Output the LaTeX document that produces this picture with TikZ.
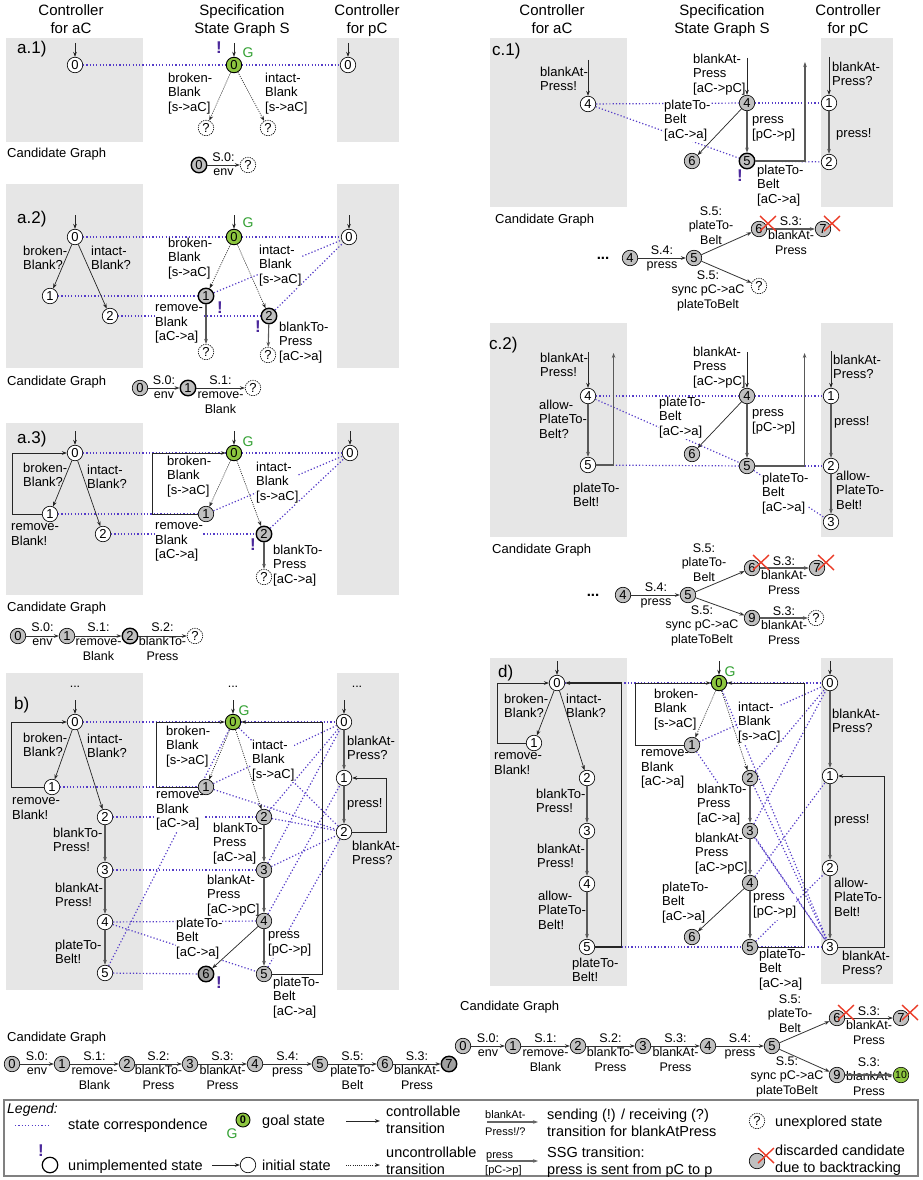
\documentclass[tikz,border=0pt]{standalone}
\usepackage{fontspec}
\setmainfont{Liberation Sans}
\usetikzlibrary{arrows.meta}
\pgfdeclarelayer{bg}\pgfdeclarelayer{corrl}\pgfsetlayers{bg,corrl,main}
\definecolor{boxg}{RGB}{230,230,230}
\definecolor{pcol}{RGB}{85,60,200}
\definecolor{excl}{RGB}{75,40,155}
\definecolor{ngreen}{RGB}{141,198,63}
\definecolor{gtext}{RGB}{50,160,50}
\definecolor{ngray}{RGB}{192,192,192}
\definecolor{ndark}{RGB}{160,160,160}
\definecolor{xred}{RGB}{235,60,40}
\newcommand\fntL{\fontsize{13}{14.5}\selectfont}
\newcommand\fntC{\fontsize{12.5}{14.5}\selectfont}
\newcommand\fntH{\fontsize{15}{18}\selectfont}
\newcommand\fntP{\fontsize{17}{20}\selectfont}
\newcommand\fntG{\fontsize{14.5}{17}\selectfont}
\newcommand\fntS{\fontsize{11}{12.5}\selectfont}
\newcounter{lbc}
\newcommand\lab[3][]{\stepcounter{lbc}\node[lbl,#1] (lab\arabic{lbc}) at (#2) {#3};}
\newcommand\clab[3][]{\stepcounter{lbc}\node[clbl,#1] (lab\arabic{lbc}) at (#2) {#3};}
\newcommand\initarr[2][22]{\draw[ctl] ([yshift=#1pt]#2.center) -- (#2);}
\newcommand\redx[1]{\draw[xred,line width=1.4pt] ([shift={(1,-13)}]#1.center) -- ([shift={(17,2)}]#1.center) ([shift={(1,2)}]#1.center) -- ([shift={(17,-13)}]#1.center);}
\tikzset{
 stn/.style={circle,draw,minimum size=15.5pt,inner sep=0pt,font=\fontsize{13}{13}\selectfont,line width=0.65pt,fill=white},
 stg/.style={stn,fill=ngray},
 stgoal/.style={stn,fill=ngreen,line width=0.9pt},
 unimp/.style={line width=1.4pt},
 stq/.style={stn,dash pattern=on 1.3pt off 1pt},
 corr/.style={draw=pcol,line width=1.2pt,dash pattern=on 1.2pt off 2.1pt},
 ctl/.style={draw=black!85,line width=0.7pt,-{Stealth[length=5pt,width=3.6pt]}},
 ctlg/.style={ctl,draw=black!65,line width=1.1pt},
 unc/.style={ctl,dash pattern=on 1pt off 1.2pt},
 cand/.style={draw=black!80,line width=0.8pt,-{Stealth[length=5pt,width=3.6pt]}},
 txtbase/.style={inner sep=0pt,execute at begin node=\strut},
 lbl/.style={txtbase,anchor=north west,align=left,font=\fntL,yshift=5.5pt},
 lblw/.style={fill=white},
 clbl/.style={txtbase,anchor=north,align=center,font=\fntC,yshift=5.6pt},
 hd/.style={txtbase,anchor=north,align=center,font=\fntH,yshift=7.2pt},
 pn/.style={txtbase,anchor=north west,font=\fntP,yshift=7.9pt},
 lg/.style={txtbase,anchor=north west,align=left,font=\fntG,yshift=6.7pt},
 lgs/.style={txtbase,anchor=north west,align=left,font=\fntS,yshift=4.8pt},
 gl/.style={text=gtext,font=\fontsize{14}{14}\selectfont,inner sep=0pt},
 ex/.style={text=excl,font=\fontsize{17}{17}\selectfont\bfseries,inner sep=0pt},
 dots/.style={inner sep=0pt,font=\fntC},
}
\begin{document}
\begin{tikzpicture}[x=1pt,y=-1pt]
\useasboundingbox (0,0) rectangle (923,1180);
\begin{pgfonlayer}{bg}
\fill[white] (0,0) rectangle (923,1180);
\foreach \t/\b in {38/142,184/368,423/595,673/990}{\fill[boxg] (6,\t) rectangle (143,\b); \fill[boxg] (337,\t) rectangle (399,\b);}
\fill[boxg] (490,38) rectangle (627,207); \fill[boxg] (821,38) rectangle (893,207);
\fill[boxg] (490,323) rectangle (627,537); \fill[boxg] (821,323) rectangle (893,537);
\fill[boxg] (490,658) rectangle (627,986); \fill[boxg] (821,658) rectangle (893,984);
\end{pgfonlayer}
% headings
\node[hd] (h1) at (71,12) {Controller\\for aC};
\node[hd] (h2) at (242,12) {Specification\\State Graph S};
\node[hd] (h3) at (367,12) {Controller\\for pC};
\node[hd] (h4) at (552,12) {Controller\\for aC};
\node[hd] (h5) at (722,12) {Specification\\State Graph S};
\node[hd] (h6) at (848,12) {Controller\\for pC};
\node[pn] (pa1) at (17,47) {a.1)};
\node[pn] (pa2) at (17,217) {a.2)};
\node[pn] (pa3) at (17,437) {a.3)};
\node[pn] (pb) at (14,703) {b)};
\node[pn] (pc1) at (492,49) {c.1)};
\node[pn] (pc2) at (489,343) {c.2)};
\node[pn] (pd) at (498,671) {d)};
% ================= labels a.1
\lab[lblw]{168,78}{broken-\\Blank\\{}[s->aC]}
\lab[lblw]{265,78}{intact-\\Blank\\{}[s->aC]}
\lab{7,153}{Candidate Graph}
\clab{223.5,158}{S.0:\\env}
% a.2
\lab{23,251}{broken-\\Blank?}
\lab{91,251}{intact-\\Blank?}
\lab[lblw]{168,243}{broken-\\Blank\\{}[s->aC]}
\lab[lblw]{259,250}{intact-\\Blank\\{}[s->aC]}
\lab[lblw]{155,310}{remove-\\Blank\\{}[aC->a]}
\lab[lblw]{279,327}{blankTo-\\Press\\{}[aC->a]}
\lab{7,381}{Candidate Graph}
\clab{164,381}{S.0:\\env}
\clab{220.5,381}{S.1:\\remove-\\Blank}
% a.3
\lab{23,468}{broken-\\Blank?}
\lab{87,470}{intact-\\Blank?}
\lab{11,529}{remove-\\Blank!}
\lab[lblw]{167,461}{broken-\\Blank\\{}[s->aC]}
\lab[lblw]{256,467}{intact-\\Blank\\{}[s->aC]}
\lab[lblw]{155,528}{remove-\\Blank\\{}[aC->a]}
\lab[lblw]{273,550}{blankTo-\\Press\\{}[aC->a]}
\lab{7,607}{Candidate Graph}
\clab{42.5,628}{S.0:\\env}
\clab{98.5,628}{S.1:\\remove-\\Blank}
\clab{162.5,628}{S.2:\\blankTo-\\Press}
% b
\node[dots] (bd1) at (75,687) {...};
\node[dots] (bd2) at (233,687) {...};
\node[dots] (bd3) at (357,687) {...};
\lab{23,738}{broken-\\Blank?}
\lab{87,739}{intact-\\Blank?}
\lab{12,803}{remove-\\Blank!}
\lab{53,833}{blankTo-\\Press!}
\lab{55,888}{blankAt-\\Press!}
\lab{55,945}{plateTo-\\Belt!}
\lab[lblw]{166,731}{broken-\\Blank\\{}[s->aC]}
\lab[lblw]{252,745}{intact-\\Blank\\{}[s->aC]}
\lab[lblw]{156,797}{remove-\\Blank\\{}[aC->a]}
\lab[lblw]{213,828}{blankTo-\\Press\\{}[aC->a]}
\lab[lblw]{207,880}{blankAt-\\Press\\{}[aC->pC]}
\lab[lblw]{176,923}{plateTo-\\Belt\\{}[aC->a]}
\lab[lblw]{268,937}{press\\{}[pC->p]}
\lab[lblw]{273,982}{plateTo-\\Belt\\{}[aC->a]}
\lab{347,741}{blankAt-\\Press?}
\lab{347,803}{press!}
\lab{352,846}{blankAt-\\Press?}
\lab{7,1037}{Candidate Graph}
\clab{37,1057}{S.0:\\env}
\clab{94.5,1057}{S.1:\\remove-\\Blank}
\clab{158.5,1057}{S.2:\\blankTo-\\Press}
\clab{222.5,1057}{S.3:\\blankAt-\\Press}
\clab{287.5,1057}{S.4:\\press}
\clab{352.5,1057}{S.5:\\plateTo-\\Belt}
\clab{417,1057}{S.3:\\blankAt-\\Press}
% c.1
\lab{540,72}{blankAt-\\Press!}
\lab[lblw]{693,59}{blankAt-\\Press\\{}[aC->pC]}
\lab[lblw]{664,105}{plateTo-\\Belt\\{}[aC->a]}
\lab[lblw]{752,122}{press\\{}[pC->p]}
\lab[lblw]{757,170}{plateTo-\\Belt\\{}[aC->a]}
\lab{832,67}{blankAt-\\Press?}
\lab{836,133}{press!}
\lab{495,219}{Candidate Graph}
\clab{662,251}{S.4:\\press}
\clab{711,212}{S.5:\\plateTo-\\Belt}
\clab{791,222}{S.3:\\blankAt-\\Press}
\clab{708,276}{S.5:\\sync pC->aC\\plateToBelt}
\node[dots,font=\fontsize{15}{15}\selectfont\bfseries] (cad) at (603,258) {...};
% c.2
\lab{540,358}{blankAt-\\Press!}
\lab{539,405}{allow-\\PlateTo-\\Belt?}
\lab{573,488}{plateTo-\\Belt!}
\lab[lblw]{693,352}{blankAt-\\Press\\{}[aC->pC]}
\lab[lblw]{659,402}{plateTo-\\Belt\\{}[aC->a]}
\lab[lblw]{752,415}{press\\{}[pC->p]}
\lab[lblw]{762,478}{plateTo-\\Belt\\{}[aC->a]}
\lab{833,360}{blankAt-\\Press?}
\lab{834,421}{press!}
\lab{836,476}{allow-\\PlateTo-\\Belt!}
\lab{492,549}{Candidate Graph}
\clab{656,588}{S.4:\\press}
\clab{704,549}{S.5:\\plateTo-\\Belt}
\clab{784,562}{S.3:\\blankAt-\\Press}
\clab{702,611}{S.5:\\sync pC->aC\\plateToBelt}
\clab{784,612}{S.3:\\blankAt-\\Press}
\node[dots,font=\fontsize{15}{15}\selectfont\bfseries] (cbd) at (593,595) {...};
% d
\lab{504,699}{broken-\\Blank?}
\lab{566,699}{intact-\\Blank?}
\lab{494,758}{remove-\\Blank!}
\lab{536,794}{blankTo-\\Press!}
\lab{537,849}{blankAt-\\Press!}
\lab{538,896}{allow-\\PlateTo-\\Belt!}
\lab{572,963}{plateTo-\\Belt!}
\lab[lblw]{654,694}{broken-\\Blank\\{}[s->aC]}
\lab[lblw]{738,707}{intact-\\Blank\\{}[s->aC]}
\lab[lblw]{641,755}{remove-\\Blank\\{}[aC->a]}
\lab[lblw]{697,789}{blankTo-\\Press\\{}[aC->a]}
\lab[lblw]{695,838}{blankAt-\\Press\\{}[aC->pC]}
\lab[lblw]{662,887}{plateTo-\\Belt\\{}[aC->a]}
\lab[lblw]{753,899}{press\\{}[pC->p]}
\lab[lblw]{759,954}{plateTo-\\Belt\\{}[aC->a]}
\lab{832,714}{blankAt-\\Press?}
\lab{834,819}{press!}
\lab{834,883}{allow-\\PlateTo-\\Belt!}
\lab{842,956}{blankAt-\\Press?}
\lab{460,1006}{Candidate Graph}
\clab{488,1039}{S.0:\\env}
\clab{545.5,1039}{S.1:\\remove-\\Blank}
\clab{610.5,1039}{S.2:\\blankTo-\\Press}
\clab{675.5,1039}{S.3:\\blankAt-\\Press}
\clab{740,1039}{S.4:\\press}
\clab{790,1000}{S.5:\\plateTo-\\Belt}
\clab{869,1012}{S.3:\\blankAt-\\Press}
\clab{787,1062}{S.5:\\sync pC->aC\\plateToBelt}
\clab{869,1063}{S.3:\\blankAt-\\Press}
% ================= nodes a.1
\node[stn] (a1A0) at (75,65) {0};
\node[stgoal] (a1S0) at (234,65) {0};
\node[stq] (a1Q1) at (206,128) {?};
\node[stq] (a1Q2) at (268,128) {?};
\node[stn] (a1P0) at (348,65) {0};
\node[stg,unimp] (a1K0) at (199,165) {0};
\node[stq] (a1Kq) at (248,165) {?};
% a.2
\node[stn] (a2A0) at (75,237) {0};
\node[stn] (a2A1) at (50,296) {1};
\node[stn] (a2A2) at (110,316) {2};
\node[stgoal] (a2S0) at (234,237) {0};
\node[stg,unimp] (a2S1) at (206,296) {1};
\node[stg,unimp] (a2S2) at (269,316) {2};
\node[stq] (a2Q1) at (206,352) {?};
\node[stq] (a2Q2) at (268,355) {?};
\node[stn] (a2P0) at (349,237) {0};
\node[stg] (a2K0) at (140,388) {0};
\node[stg,unimp] (a2K1) at (188,388) {1};
\node[stq] (a2Kq) at (253,388) {?};
% a.3
\node[stn] (a3A0) at (75,453) {0};
\node[stn] (a3A1) at (50,514) {1};
\node[stn] (a3A2) at (103,534) {2};
\node[stgoal] (a3S0) at (234,453) {0};
\node[stg] (a3S1) at (206,514) {1};
\node[stg,unimp] (a3S2) at (264,534) {2};
\node[stq] (a3Q) at (264,577) {?};
\node[stn] (a3P0) at (350,453) {0};
\node[stg] (a3K0) at (18,636) {0};
\node[stg] (a3K1) at (67,636) {1};
\node[stg,unimp] (a3K2) at (130,636) {2};
\node[stq] (a3Kq) at (195,636) {?};
% b
\node[stn] (bA0) at (75,722) {0};
\node[stn] (bA1) at (52,787) {1};
\node[stn] (bA2) at (105,817) {2};
\node[stn] (bA3) at (105,870) {3};
\node[stn] (bA4) at (105,922) {4};
\node[stn] (bA5) at (105,973) {5};
\node[stgoal] (bS0) at (233,722) {0};
\node[stg] (bS1) at (206,787) {1};
\node[stg] (bS2) at (264,817) {2};
\node[stg] (bS3) at (264,870) {3};
\node[stg] (bS4) at (264,921) {4};
\node[stg] (bS5) at (264,974) {5};
\node[stg,unimp,fill=ndark] (bS6) at (206,974) {6};
\node[stn] (bP0) at (344,722) {0};
\node[stn] (bP1) at (344,778) {1};
\node[stn] (bP2) at (344,832) {2};
\foreach \i/\x in {0/12,1/62,2/127,3/190,4/255,5/320,6/385}{\node[stg] (bK\i) at (\x,1064) {\i};}
\node[stg,unimp,fill=ndark] (bK7) at (449,1064) {7};
% c.1
\node[stn] (caA4) at (588,104) {4};
\node[stg] (caS4) at (747,103) {4};
\node[stg,unimp] (caS5) at (747,161) {5};
\node[stg] (caS6) at (692,161) {6};
\node[stn] (caP1) at (829,103) {1};
\node[stn] (caP2) at (829,162) {2};
\node[stg] (caK4) at (630,258) {4};
\node[stg] (caK5) at (694,258) {5};
\node[stg] (caK6) at (759,229) {6};
\node[stg] (caK7) at (823,229) {7};
\node[stq] (caKq) at (759,286) {?};
% c.2
\node[stn] (cbA4) at (588,396) {4};
\node[stn] (cbA5) at (588,465) {5};
\node[stg] (cbS4) at (747,396) {4};
\node[stg] (cbS5) at (747,466) {5};
\node[stg] (cbS6) at (692,454) {6};
\node[stn] (cbP1) at (831,396) {1};
\node[stn] (cbP2) at (831,466) {2};
\node[stn] (cbP3) at (831,522) {3};
\node[stg] (cbK4) at (623,595) {4};
\node[stg] (cbK5) at (688,595) {5};
\node[stg] (cbK6) at (752,568) {6};
\node[stg] (cbK7) at (817,568) {7};
\node[stg] (cbK9) at (752,618) {9};
\node[stq] (cbKq) at (816,618) {?};
% d
\node[stn] (dA0) at (557,683) {0};
\node[stn] (dA1) at (534,743) {1};
\node[stn] (dA2) at (587,778) {2};
\node[stn] (dA3) at (587,831) {3};
\node[stn] (dA4) at (587,884) {4};
\node[stn] (dA5) at (587,947) {5};
\node[stgoal] (dS0) at (719,683) {0};
\node[stg] (dS1) at (692,745) {1};
\node[stg] (dS2) at (750,778) {2};
\node[stg] (dS3) at (750,831) {3};
\node[stg] (dS4) at (750,883) {4};
\node[stg] (dS5) at (750,947) {5};
\node[stg] (dS6) at (692,937) {6};
\node[stn] (dP0) at (830,683) {0};
\node[stn] (dP1) at (830,776) {1};
\node[stn] (dP2) at (830,868) {2};
\node[stn] (dP3) at (830,947) {3};
\foreach \i/\x in {0/463,1/513,2/578,3/643,4/708,5/772}{\node[stg] (dK\i) at (\x,1046) {\i};}
\node[stg] (dK6) at (837,1018) {6};
\node[stg] (dK7) at (901,1018) {7};
\node[stg] (dK9) at (837,1075) {9};
\node[stgoal,line width=0.6pt,font=\fontsize{10.5}{10.5}\selectfont] (dK10) at (901,1075) {10};
% G and !
\node[gl] (g1) at (248,53) {G};
\node[gl] (g2) at (248,223) {G};
\node[gl] (g3) at (248,442) {G};
\node[gl] (g4) at (244,711) {G};
\node[gl] (g5) at (730,672) {G};
\node[ex] (e1) at (219,48) {!};
\node[ex] (e2) at (220,308) {!};
\node[ex] (e3) at (258,327) {!};
\node[ex] (e4) at (253,545) {!};
\node[ex] (e5) at (219,983) {!};
\node[ex] (e6) at (740,176) {!};
% ================= edges a.1
\initarr{a1A0} \initarr{a1S0} \initarr{a1P0}
\draw[unc] (a1S0) -- (a1Q1);
\draw[unc] (a1S0) -- (a1Q2);
\draw[cand] (a1K0) -- (a1Kq);
% a.2
\initarr{a2A0} \initarr{a2S0} \initarr{a2P0}
\draw[ctl] (a2A0) -- (a2A1);
\draw[ctl] (a2A0) -- (a2A2);
\draw[unc] (a2S0) -- (a2S1);
\draw[unc] (a2S0) -- (a2S2);
\draw[ctlg] (a2S1) -- (a2Q1);
\draw[ctlg] (a2S2) -- (a2Q2);
\draw[cand] (a2K0) -- (a2K1);
\draw[cand] (a2K1) -- (a2Kq);
% a.3
\initarr{a3A0} \initarr{a3S0} \initarr{a3P0}
\draw[ctl] (a3A0) -- (a3A1);
\draw[ctl] (a3A0) -- (a3A2);
\draw[ctl] (a3A1.west) -- ++(-29.5,0) |- (a3A0.west);
\draw[unc] (a3S0) -- (a3S1);
\draw[unc] (a3S0) -- (a3S2);
\draw[ctl] (a3S1.west) -- ++(-45.5,0) |- (a3S0.west);
\draw[ctlg] (a3S2) -- (a3Q);
\draw[cand] (a3K0) -- (a3K1);
\draw[cand] (a3K1) -- (a3K2);
\draw[cand] (a3K2) -- (a3Kq);
% b
\initarr{bA0} \initarr{bS0} \initarr{bP0}
\draw[ctl] (bA0) -- (bA1);
\draw[ctl] (bA0) -- (bA2);
\draw[ctl] (bA1.west) -- ++(-32.5,0) |- (bA0.west);
\draw[ctlg] (bA2) -- (bA3);
\draw[ctlg] (bA3) -- (bA4);
\draw[ctlg] (bA4) -- (bA5);
\draw[unc] (bS0) -- (bS1);
\draw[unc] (bS0) -- (bS2);
\draw[ctl] (bS1.west) -- ++(-41.5,0) |- (bS0.west);
\draw[ctlg] (bS2) -- (bS3);
\draw[ctlg] (bS3) -- (bS4);
\draw[ctlg] (bS4) -- (bS5);
\draw[ctl] (bS4) -- (bS6);
\draw[ctl] (bS5.east) -- ++(50.5,0) |- (bS0.east);
\draw[ctlg] (bP0) -- (bP1);
\draw[ctlg] (bP1) -- (bP2);
\draw[ctl] (bP2.east) -- ++(34.5,0) |- (bP1.east);
\foreach \i/\j in {0/1,1/2,2/3,3/4,4/5,5/6,6/7}{\draw[cand] (bK\i) -- (bK\j);}
% c.1
\initarr[44]{caA4} \initarr[45]{caS4} \initarr[46]{caP1}
\draw[ctlg] (caS4) -- (caS5);
\draw[ctl] (caS4) -- (caS6);
\draw[ctlg] (caS5.east) -- ++(49.5,0) -- ++(0,-99);
\draw[ctlg] (caP1) -- (caP2);
\draw[cand] (caK4) -- (caK5);
\draw[cand] (caK5) -- (caK6);
\draw[cand] (caK5) -- (caKq);
\draw[cand,draw=black!65,line width=1.1pt] (caK6) -- (caK7);
\redx{caK6} \redx{caK7}
% c.2
\initarr[44]{cbA4} \initarr[44]{cbS4} \initarr[45]{cbP1}
\draw[ctlg] (cbA4) -- (cbA5);
\draw[ctlg] (cbA5.east) -- ++(17.5,0) -- ++(0,-112);
\draw[ctlg] (cbS4) -- (cbS5);
\draw[ctl] (cbS4) -- (cbS6);
\draw[ctlg] (cbS5.east) -- ++(49.5,0) -- ++(0,-113);
\draw[ctlg] (cbP1) -- (cbP2);
\draw[ctlg] (cbP2) -- (cbP3);
\draw[cand] (cbK4) -- (cbK5);
\draw[cand] (cbK5) -- (cbK6);
\draw[cand] (cbK5) -- (cbK9);
\draw[cand,draw=black!65,line width=1.1pt] (cbK6) -- (cbK7);
\draw[cand,draw=black!65,line width=1.1pt] (cbK9) -- (cbKq);
\redx{cbK6} \redx{cbK7}
% d
\initarr{dA0} \initarr{dS0} \initarr{dP0}
\draw[ctl] (dA0) -- (dA1);
\draw[ctl] (dA0) -- (dA2);
\draw[ctl] (dA1.west) -- ++(-28.5,0) |- (dA0.west);
\draw[ctlg] (dA2) -- (dA3);
\draw[ctlg] (dA3) -- (dA4);
\draw[ctlg] (dA4) -- (dA5);
\draw[ctl,line width=1.5pt] (dA5.east) -- ++(26.5,0) |- (dA0.east);
\draw[unc] (dS0) -- (dS1);
\draw[unc] (dS0) -- (dS2);
\draw[ctl] (dS1.west) -- ++(-48.5,0) |- (dS0.west);
\draw[ctlg] (dS2) -- (dS3);
\draw[ctlg] (dS3) -- (dS4);
\draw[ctlg] (dS4) -- (dS5);
\draw[ctl] (dS4) -- (dS6);
\draw[ctl] (dS5.east) -- ++(46.5,0) |- (dS0.east);
\draw[ctlg] (dP0) -- (dP1);
\draw[ctlg] (dP1) -- (dP2);
\draw[ctlg] (dP2) -- (dP3);
\draw[ctl] (dP3.east) -- ++(46.5,0) |- (dP1.east);
\foreach \i/\j in {0/1,1/2,2/3,3/4,4/5,5/6,5/9,6/7}{\draw[cand] (dK\i) -- (dK\j);}
\draw[cand,draw=black!65,line width=1.1pt] (dK9) -- (dK10);
\redx{dK6} \redx{dK7}
% ================= legend
\draw[black!50,line width=1.3pt] (4,1100) rectangle (918,1176);
\node[lg,font=\fontsize{14}{17}\selectfont\itshape] (lgT) at (7,1108) {Legend:};
\coordinate (lgd1) at (15,1125); \coordinate (lgd2) at (50,1125);
\draw[corr,line width=1pt] (lgd1) -- (lgd2);
\node[lg] (lg1) at (68,1124) {state correspondence};
\node[stgoal,minimum size=14pt,font=\fontsize{11}{11}\selectfont\bfseries] (lgG0) at (243,1120) {0};
\node[gl] (lgG) at (232,1134) {G};
\node[lg] (lg2) at (262,1120) {goal state};
\coordinate (lgc1) at (346,1121); \coordinate (lgc2) at (380,1121);
\draw[ctl] (lgc1) -- (lgc2);
\node[lg] (lg3) at (386,1112) {controllable\\transition};
\node[lgs] (lg4) at (485,1114) {blankAt-};
\node[lgs] (lg5) at (485,1131) {Press!/?};
\coordinate (lgs1) at (487,1122); \coordinate (lgs2) at (538,1122);
\draw[cand,draw=black!60,line width=1.2pt] (lgs1) -- (lgs2);
\node[lg] (lg6) at (547,1115) {sending (!) / receiving (?)\\transition for blankAtPress};
\node[stq] (lgQ) at (757,1121) {?};
\node[lg] (lg7) at (775,1121) {unexplored state};
\node[ex] (lgE) at (41,1151) {!};
\node[stn,line width=1.2pt] (lgU) at (50,1165) {};
\node[lg] (lg8) at (68,1165) {unimplemented state};
\node[stn] (lgI) at (248,1165) {};
\coordinate (lgi1) at (212,1165);
\draw[ctl] (lgi1) -- (lgI);
\node[lg] (lg9) at (262,1165) {initial state};
\coordinate (lgu1) at (346,1165); \coordinate (lgu2) at (380,1165);
\draw[unc] (lgu1) -- (lgu2);
\node[lg] (lg10) at (386,1153) {uncontrollable\\transition};
\node[lgs] (lg11) at (486,1154) {press};
\node[lgs] (lg12) at (485,1169) {[pC->p]};
\coordinate (lgp1) at (487,1161); \coordinate (lgp2) at (538,1161);
\draw[cand,draw=black!60,line width=1.2pt] (lgp1) -- (lgp2);
\node[lg] (lg13) at (547,1153) {SSG transition:\\press is sent from pC to p};
\node[stg] (lgX) at (757,1161) {};
\redx{lgX}
\node[lg] (lg14) at (775,1151) {discarded candidate\\due to backtracking};
% ================= state correspondences
\begin{pgfonlayer}{corrl}
\foreach \u/\v in {a1A0/a1S0,a1S0/a1P0,
 a2A0/a2S0,a2S0/a2P0,a2A1/a2S1,a2A2/a2S2,a2S1/a2P0,a2S2/a2P0,
 a3A0/a3S0,a3S0/a3P0,a3A1/a3S1,a3A2/a3S2,a3S1/a3P0,a3S2/a3P0,
 bA0/bS0,bS0/bP0,bA1/bS1,bA2/bS2,bA3/bS3,bA4/bS4,bA4/bS5,bA5/bS6,bA5/bS0,
 bS0/bP2,bS1/bP0,bS1/bP2,bS2/bP0,bS2/bP2,bS3/bP0,bS3/bP2,bS4/bP1,bS5/bP2,
 caA4/caS4,caS4/caP1,caA4/caS5,caS5/caP2,
 cbA4/cbS4,cbS4/cbP1,cbA4/cbS5,cbA5/cbS5,cbS5/cbP2,cbS5/cbP3,
 dA0/dS0,dS0/dP0,dA5/dS5,dS5/dP3,dS1/dP0,dS2/dP0,dS3/dP0,
 dS0/dP3,dS1/dP3,dS2/dP3,dS3/dP3,dS4/dP1,dS5/dP2}
 {\draw[corr] (\u) -- (\v);}
\end{pgfonlayer}
\end{tikzpicture}
\end{document}
